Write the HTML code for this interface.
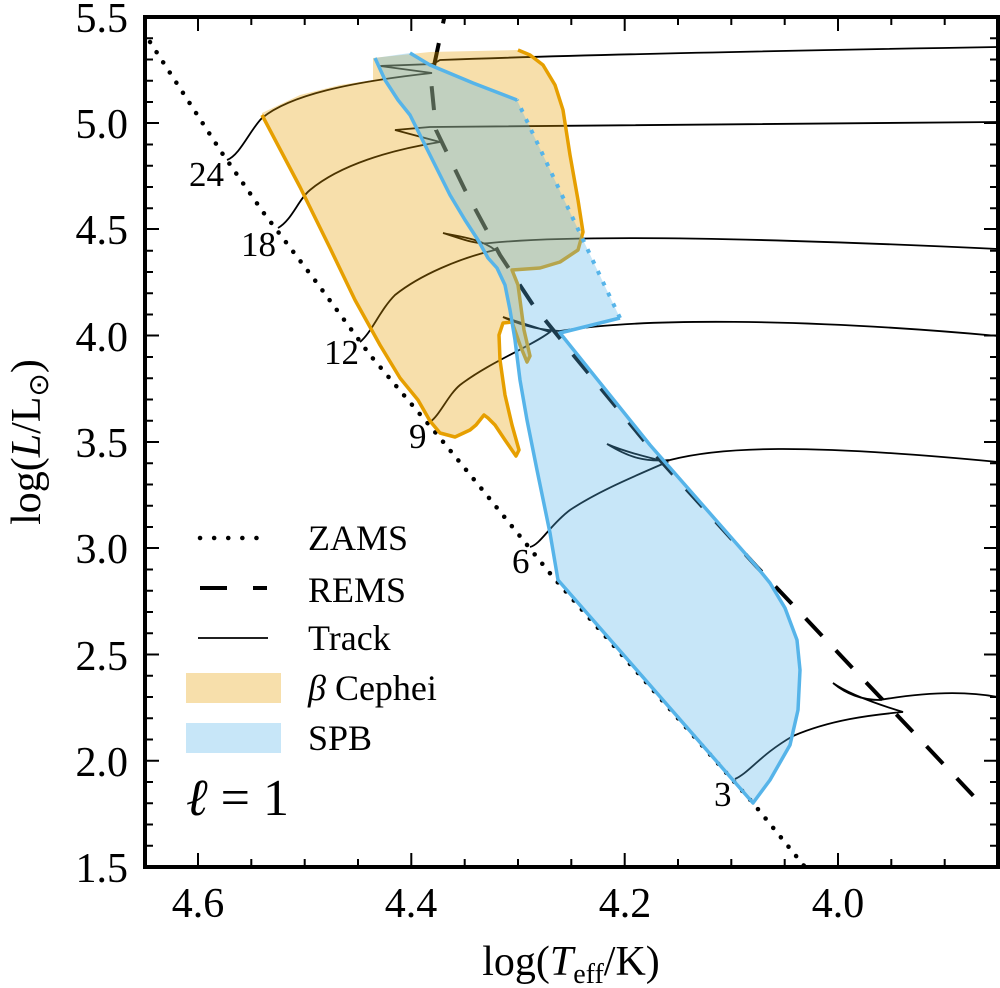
<!DOCTYPE html>
<html><head><meta charset="utf-8"><style>
html,body{margin:0;padding:0;background:#fff;}
svg{display:block;font-family:"Liberation Serif",serif;}
</style></head><body>
<svg width="1000" height="988" viewBox="0 0 1000 988" xmlns="http://www.w3.org/2000/svg">
<defs><clipPath id="c"><rect x="145" y="17" width="853" height="850"/></clipPath></defs>
<g clip-path="url(#c)">
<!-- tracks -->
<g fill="none" stroke="#000" stroke-width="1.8">
<path d="M227,160 C240,155 250,130 262,118 C290,95 350,82 432,73 L380,66 L433,64 L440,60 C520,57 700,52 998,47"/>
<path d="M278,228 C292,220 298,200 310,190 C340,165 390,150 440,142 L395,130 L430,127 C520,126 700,124 998,122"/>
<path d="M360,342 C372,332 380,310 395,295 C420,275 460,258 495,250 C480,238 455,236 443,233 C460,238 475,245 490,243 C560,236 700,235 998,249"/>
<path d="M430,422 C440,415 448,395 460,385 C490,362 530,347 550,332 L503,317 C520,325 540,330 560,331 C640,318 800,318 998,336"/>
<path d="M530,547 C540,545 550,525 570,510 C600,490 640,474 667,462 C650,458 625,452 607,444 C630,458 645,462 670,460 C720,447 800,443 998,462"/>
<path d="M735,779 C750,772 760,755 793,736 C830,720 870,715 903,712 C880,705 850,695 833,683 C845,693 860,700 880,700 C920,693 960,690 998,697"/>
</g>
<!-- ZAMS -->
<polyline points="150,42 222,153 263,212 317,283 370,355 440,438 485,493 553,577 753,803 805,867" fill="none" stroke="#000" stroke-width="4.5" stroke-linecap="round" stroke-dasharray="0.1 12"/>
<!-- REMS -->
<polyline points="448,0 431,80 436,130 465,190 500,255 533,305 575,357 660,460 757,567 983,806" fill="none" stroke="#000" stroke-width="4" stroke-dasharray="24 20"/>
<!-- beta Cephei -->
<polygon points="262,113 300,95 340,85 373,80 373,58 430,52 518,50 530,55 543,65 555,85 563,110 570,155 578,200 583,232 578,250 560,262 540,268 512,270 518,285 524,330 530,356 527,362 520,345 512,322 503,323 499,335 500,360 505,395 512,425 519,450 516,456 505,440 495,425 488,418 484,415 476,425 470,430 455,437 440,433 430,421 418,400 400,378 380,345 355,300 330,248 300,187 262,115" fill="#e69f00" fill-opacity="0.33" stroke="none"/>
<polyline points="518,50 530,55 543,65 555,85 563,110 570,155 578,200 583,232 578,250 560,262 540,268 512,270 518,285 524,330 530,356 527,362 520,345 512,322 503,323 499,335 500,360 505,395 512,425 519,450 516,456 505,440 495,425 488,418 484,415 476,425 470,430 455,437 440,433 430,421 418,400 400,378 380,345 355,300 330,248 300,187 262,115" fill="none" stroke="#e69f00" stroke-width="3.5" stroke-linejoin="round"/>
<!-- SPB -->
<polygon points="375,58 385,80 398,100 410,115 420,135 435,165 450,195 465,220 478,240 488,258 497,268 505,285 510,310 515,340 520,380 527,420 537,470 550,533 558,580 753,803 770,780 790,745 798,710 800,670 797,640 785,608 770,583 757,567 650,445 560,333 620,318 517,100 473,83 430,65 410,53" fill="#56b4e9" fill-opacity="0.33" stroke="none"/>
<polyline points="517,100 473,83 430,65 410,53" fill="none" stroke="#56b4e9" stroke-width="3.5"/>
<polyline points="375,58 385,80 398,100 410,115 420,135 435,165 450,195 465,220 478,240 488,258 497,268 505,285 510,310 515,340 520,380 527,420 537,470 550,533 558,580 753,803 770,780 790,745 798,710 800,670 797,640 785,608 770,583 757,567 650,445 560,333 620,318" fill="none" stroke="#56b4e9" stroke-width="3.5" stroke-linejoin="round"/>
<line x1="620" y1="318" x2="517" y2="100" stroke="#56b4e9" stroke-width="4" stroke-dasharray="4 8"/>
</g>
<!-- mass labels -->
<g font-size="35" fill="#000">
<text x="189" y="186">24</text>
<text x="241" y="256">18</text>
<text x="324" y="364">12</text>
<text x="409" y="448">9</text>
<text x="512" y="573">6</text>
<text x="714" y="806">3</text>
</g>
<!-- legend -->
<line x1="200" y1="538" x2="260" y2="538" stroke="#000" stroke-width="4.5" stroke-linecap="round" stroke-dasharray="0.1 14"/>
<line x1="200" y1="588" x2="267" y2="588" stroke="#000" stroke-width="4" stroke-dasharray="27 26"/>
<line x1="198" y1="638" x2="268" y2="638" stroke="#000" stroke-width="1.8"/>
<rect x="186" y="673" width="95" height="30" fill="#e69f00" fill-opacity="0.33"/>
<rect x="186" y="723" width="95" height="30" fill="#56b4e9" fill-opacity="0.33"/>
<g font-size="36" fill="#000">
<text x="308" y="550">ZAMS</text>
<text x="308" y="602">REMS</text>
<text x="308" y="650">Track</text>
<text x="308" y="700"><tspan font-style="italic">β</tspan> Cephei</text>
<text x="308" y="750">SPB</text>
</g>
<text x="186" y="815" font-size="52"><tspan font-style="italic">ℓ</tspan> = 1</text>
<!-- ticks -->
<g stroke="#000" stroke-width="2">
<path d="M198,867v-14M411.3,867v-14M624.7,867v-14M838,867v-14M198,17v14M411.3,17v14M624.7,17v14M838,17v14"/>
<path d="M251.3,867v-8M304.7,867v-8M358,867v-8M464.7,867v-8M518,867v-8M571.3,867v-8M678,867v-8M731.3,867v-8M784.7,867v-8M891.3,867v-8M944.7,867v-8M251.3,17v8M304.7,17v8M358,17v8M464.7,17v8M518,17v8M571.3,17v8M678,17v8M731.3,17v8M784.7,17v8M891.3,17v8M944.7,17v8"/>
<path d="M145,760.8h14M145,654.5h14M145,548h14M145,442h14M145,335.5h14M145,229h14M145,123h14M998,760.8h-14M998,654.5h-14M998,548h-14M998,442h-14M998,335.5h-14M998,229h-14M998,123h-14"/>
<path d="M145,845.8h8M145,824.5h8M145,803.3h8M145,782h8M145,739.5h8M145,718.3h8M145,697h8M145,675.8h8M145,633.3h8M145,612h8M145,590.8h8M145,569.5h8M145,527h8M145,505.8h8M145,484.5h8M145,463.3h8M145,420.8h8M145,399.5h8M145,378.3h8M145,357h8M145,314.5h8M145,293.3h8M145,272h8M145,250.8h8M145,208.3h8M145,187h8M145,165.8h8M145,144.5h8M145,102h8M145,80.8h8M145,59.5h8M145,38.3h8"/>
<path d="M998,845.8h-8M998,824.5h-8M998,803.3h-8M998,782h-8M998,739.5h-8M998,718.3h-8M998,697h-8M998,675.8h-8M998,633.3h-8M998,612h-8M998,590.8h-8M998,569.5h-8M998,527h-8M998,505.8h-8M998,484.5h-8M998,463.3h-8M998,420.8h-8M998,399.5h-8M998,378.3h-8M998,357h-8M998,314.5h-8M998,293.3h-8M998,272h-8M998,250.8h-8M998,208.3h-8M998,187h-8M998,165.8h-8M998,144.5h-8M998,102h-8M998,80.8h-8M998,59.5h-8M998,38.3h-8"/>
</g>
<rect x="145" y="17" width="853" height="850" fill="none" stroke="#000" stroke-width="4"/>
<!-- tick labels -->
<g font-size="42" fill="#000" text-anchor="middle">
<text x="198" y="917">4.6</text>
<text x="411" y="917">4.4</text>
<text x="625" y="917">4.2</text>
<text x="838" y="917">4.0</text>
</g>
<g font-size="42" fill="#000" text-anchor="end">
<text x="128" y="882">1.5</text>
<text x="128" y="776">2.0</text>
<text x="128" y="670">2.5</text>
<text x="128" y="563">3.0</text>
<text x="128" y="457">3.5</text>
<text x="128" y="351">4.0</text>
<text x="128" y="244">4.5</text>
<text x="128" y="138">5.0</text>
<text x="128" y="32">5.5</text>
</g>
<text x="571" y="975" font-size="42" text-anchor="middle">log(<tspan font-style="italic">T</tspan><tspan font-size="28" dy="8">eff</tspan><tspan dy="-8">/K)</tspan></text>
<text transform="translate(40,442) rotate(-90)" font-size="42" text-anchor="middle">log(<tspan font-style="italic">L</tspan>/L<tspan font-size="28" dy="8">⊙</tspan><tspan dy="-8">)</tspan></text>
</svg>
</body></html>
